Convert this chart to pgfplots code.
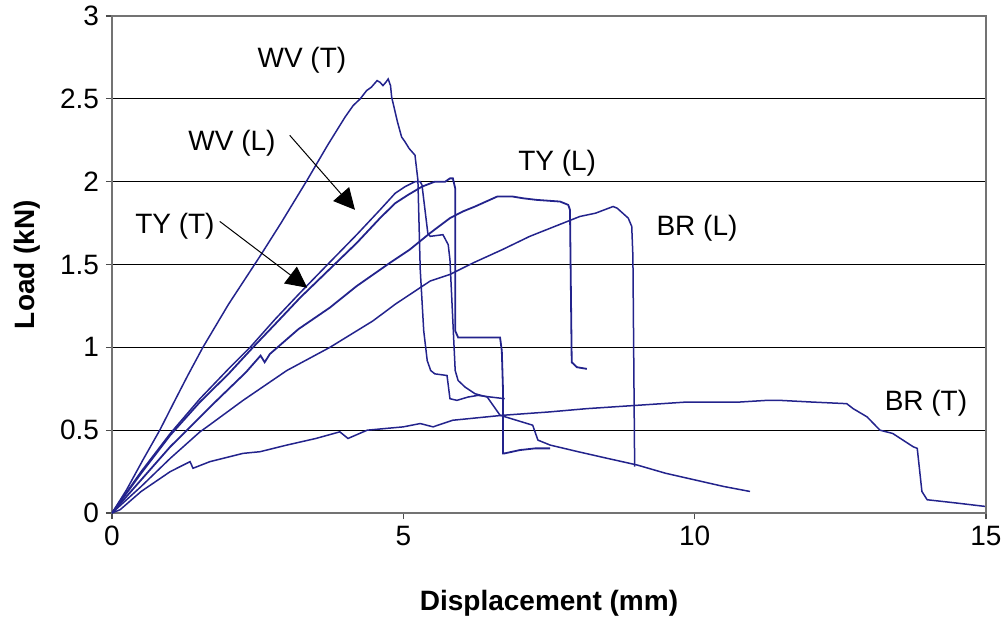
\documentclass[border=0pt]{standalone}
\usepackage{pgfplots}
\pgfplotsset{compat=1.18}
\usepackage{fontspec}
\setmainfont{Liberation Sans}
\usetikzlibrary{arrows.meta}
\definecolor{plotblue}{RGB}{35,35,140}
\begin{document}
\begin{tikzpicture}
\begin{axis}[
  scale only axis, width=437pt, height=248.5pt,
  xmin=0, xmax=15, ymin=0, ymax=3,
  xtick={0,5,10,15}, ytick={0,0.5,1,1.5,2,2.5,3},
  tick pos=left, tick align=outside,
  major tick length=3pt,
  every tick/.style={draw=black!70, line width=0.6pt},
  ymajorgrids, grid style={draw=black, line width=0.5pt},
  axis line style={draw=black!55, line width=0.8pt},
  /pgf/number format/assume math mode=true,
  ticklabel style={font=\fontsize{14}{16}\selectfont},
  xlabel={\bfseries Displacement (mm)},
  ylabel={\bfseries Load (kN)},
  label style={font=\fontsize{14}{16}\selectfont},
  xlabel style={at={(axis description cs:0.5,-0.181)}, anchor=center},
  ylabel style={at={(axis description cs:-0.097,0.5)}, anchor=center, rotate=0},
]
\coordinate (O) at (rel axis cs:0,0);
% WV (T)
\addplot[plotblue, line width=0.75pt, mark=none] coordinates {(0,0) (0.25,0.14) (0.53,0.32) (0.82,0.50) (1.08,0.68) (1.3,0.83) (1.56,1.00) (2.0,1.26) (2.54,1.55) (2.9,1.75) (3.35,2.01) (3.7,2.22) (4.0,2.39) (4.14,2.46) (4.26,2.50) (4.37,2.55) (4.45,2.57) (4.55,2.61) (4.6,2.60) (4.65,2.58) (4.7,2.60) (4.74,2.62) (4.78,2.58) (4.8,2.51) (4.9,2.36) (4.97,2.27) (5.03,2.24) (5.1,2.20) (5.2,2.16) (5.25,2.01) (5.29,1.47) (5.35,1.10) (5.41,0.92) (5.47,0.86) (5.54,0.84) (5.75,0.83) (5.8,0.69) (5.92,0.68) (6.11,0.70) (6.28,0.71) (6.5,0.70) (6.74,0.69)};
% curve A
\addplot[plotblue, line width=0.75pt, mark=none] coordinates {(0,0) (0.5,0.25) (1.0,0.48) (1.51,0.69) (2.0,0.87) (2.37,1.0) (2.8,1.17) (3.23,1.33) (3.7,1.50) (4.2,1.68) (4.6,1.83) (4.86,1.93) (5.03,1.97) (5.2,2.0) (5.29,2.0) (5.32,1.98) (5.42,1.69) (5.46,1.67) (5.68,1.68) (5.77,1.62) (5.8,1.53) (5.89,0.86) (5.94,0.80) (6.06,0.76) (6.23,0.72) (6.44,0.70) (6.66,0.59) (7.22,0.53) (7.31,0.44) (7.52,0.41) (8.0,0.37) (8.5,0.33) (9.01,0.29) (9.5,0.24) (10.0,0.20) (10.5,0.16) (10.95,0.13)};
% curve B
\addplot[plotblue, line width=0.9pt, mark=none] coordinates {(0,0) (0.5,0.24) (1.0,0.47) (1.51,0.67) (2.0,0.84) (2.42,1.0) (2.8,1.14) (3.23,1.30) (3.7,1.46) (4.2,1.63) (4.6,1.78) (4.86,1.87) (5.08,1.92) (5.32,1.97) (5.54,2.0) (5.72,2.0) (5.8,2.02) (5.85,2.02) (5.89,1.96) (5.89,1.10) (5.94,1.06) (6.3,1.06) (6.61,1.06) (6.66,1.06) (6.69,0.98) (6.71,0.75) (6.71,0.36) (6.74,0.36) (7.0,0.38) (7.26,0.39) (7.52,0.39)};
% TY (L)
\addplot[plotblue, line width=0.9pt, mark=none] coordinates {(0,0) (0.5,0.20) (1.0,0.40) (1.8,0.68) (2.3,0.85) (2.5,0.93) (2.55,0.95) (2.62,0.91) (2.71,0.96) (3.2,1.11) (3.74,1.24) (4.2,1.37) (4.77,1.51) (5.11,1.59) (5.46,1.69) (5.8,1.78) (6.02,1.82) (6.23,1.85) (6.61,1.91) (6.88,1.91) (7.05,1.90) (7.29,1.89) (7.69,1.88) (7.83,1.86) (7.86,1.83) (7.89,0.91) (7.98,0.88) (8.15,0.87)};
% BR (L)
\addplot[plotblue, line width=0.75pt, mark=none] coordinates {(0,0) (0.5,0.16) (1.0,0.33) (1.51,0.49) (1.63,0.52) (2.25,0.68) (3.0,0.86) (3.74,1.0) (4.48,1.16) (4.86,1.26) (5.46,1.40) (5.8,1.44) (6.2,1.51) (6.7,1.59) (7.17,1.67) (7.6,1.73) (8.03,1.79) (8.3,1.81) (8.6,1.85) (8.67,1.84) (8.86,1.78) (8.92,1.73) (8.94,1.55) (8.97,0.28)};
% BR (T)
\addplot[plotblue, line width=0.75pt, mark=none] coordinates {(0,0) (0.14,0.02) (0.5,0.13) (1.0,0.25) (1.34,0.31) (1.39,0.27) (1.68,0.31) (2.25,0.36) (2.54,0.37) (3.0,0.41) (3.5,0.45) (3.91,0.49) (4.05,0.45) (4.38,0.50) (5.0,0.52) (5.29,0.54) (5.51,0.52) (5.85,0.56) (6.71,0.59) (7.5,0.61) (8.15,0.63) (9.01,0.65) (9.87,0.67) (10.78,0.67) (11.24,0.68) (11.46,0.68) (12.0,0.67) (12.61,0.66) (12.72,0.63) (12.96,0.58) (13.18,0.50) (13.4,0.48) (13.75,0.40) (13.82,0.39) (13.9,0.13) (13.99,0.08) (14.5,0.06) (14.98,0.04)};
% labels
\node[font=\fontsize{14}{16}\selectfont] at (axis cs:3.26,2.73) {WV (T)};
\node[font=\fontsize{14}{16}\selectfont] at (axis cs:2.06,2.23) {WV (L)};
\node[font=\fontsize{14}{16}\selectfont] at (axis cs:1.08,1.73) {TY (T)};
\node[font=\fontsize{14}{16}\selectfont] at (axis cs:7.64,2.11) {TY (L)};
\node[font=\fontsize{14}{16}\selectfont] at (axis cs:10.04,1.72) {BR (L)};
\node[font=\fontsize{14}{16}\selectfont] at (axis cs:13.97,0.66) {BR (T)};
\draw[black, line width=0.5pt, -{Triangle[length=10.5pt,width=10.5pt]}] (axis cs:3.05,2.28) -- (axis cs:4.17,1.83);
\draw[black, line width=0.5pt, -{Triangle[length=10.5pt,width=10.5pt]}] (axis cs:1.85,1.76) -- (axis cs:3.35,1.36);
\end{axis}
\pgfresetboundingbox
\path[use as bounding box] ([shift={(-56pt,-52.5pt)}]O) rectangle ++(504pt,309pt);
\end{tikzpicture}
\end{document}
